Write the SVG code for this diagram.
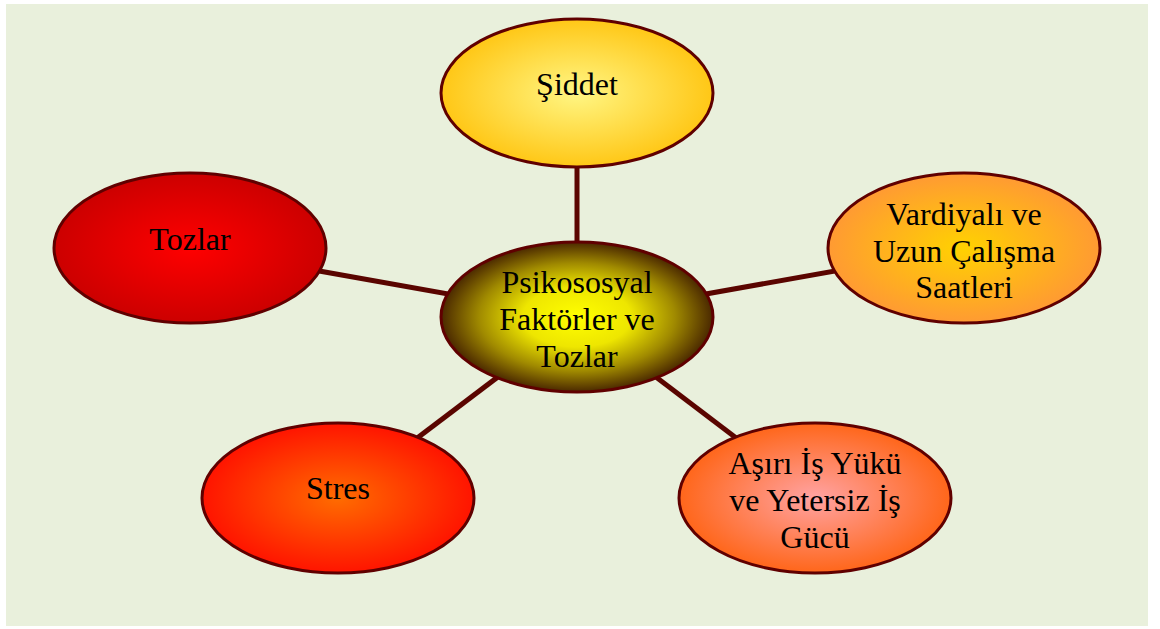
<svg xmlns="http://www.w3.org/2000/svg" width="1160" height="629" viewBox="0 0 1160 629">
  <defs>
    <radialGradient id="gCenter" cx="50%" cy="50%" r="50%">
      <stop offset="0" stop-color="#ffff00"/>
      <stop offset="0.4" stop-color="#eee600"/>
      <stop offset="0.72" stop-color="#a08a00"/>
      <stop offset="1" stop-color="#4a2800"/>
    </radialGradient>
    <radialGradient id="gSiddet" cx="50%" cy="50%" r="50%">
      <stop offset="0" stop-color="#fff684"/>
      <stop offset="1" stop-color="#ffc716"/>
    </radialGradient>
    <radialGradient id="gTozlar" cx="50%" cy="50%" r="50%">
      <stop offset="0" stop-color="#ff0000"/>
      <stop offset="1" stop-color="#cc0000"/>
    </radialGradient>
    <radialGradient id="gVardiya" cx="50%" cy="50%" r="50%">
      <stop offset="0" stop-color="#ffd200"/>
      <stop offset="1" stop-color="#ff9a33"/>
    </radialGradient>
    <radialGradient id="gStres" cx="50%" cy="50%" r="50%">
      <stop offset="0" stop-color="#ff6c00"/>
      <stop offset="1" stop-color="#ff1400"/>
    </radialGradient>
    <radialGradient id="gIsYuku" cx="50%" cy="50%" r="50%">
      <stop offset="0" stop-color="#ffa3a3"/>
      <stop offset="1" stop-color="#ff661a"/>
    </radialGradient>
  </defs>
  <style>
    .node ellipse { stroke: #600000; stroke-width: 3; }
    .node text { font-family: "Liberation Serif", "Times New Roman", serif; font-size: 32px; fill: #000; text-anchor: middle; }
    .links line { stroke: #5a0500; stroke-width: 5; }
  </style>

  <rect x="6" y="4" width="1142" height="622" fill="#e9f0dc"/>

  <g id="connectors" class="links">
    <line x1="577" y1="93" x2="577" y2="317"/>
    <line x1="190" y1="248" x2="577" y2="317"/>
    <line x1="964" y1="248" x2="577" y2="317"/>
    <line x1="338" y1="498" x2="577" y2="317"/>
    <line x1="815" y1="498" x2="577" y2="317"/>
  </g>

  <g id="node-siddet" class="node">
    <ellipse cx="577" cy="93" rx="136" ry="74" fill="url(#gSiddet)"/>
    <text x="577" y="95">Şiddet</text>
  </g>

  <g id="node-tozlar" class="node">
    <ellipse cx="190" cy="248" rx="136" ry="75" fill="url(#gTozlar)"/>
    <text x="190" y="250">Tozlar</text>
  </g>

  <g id="node-vardiya" class="node">
    <ellipse cx="964" cy="248" rx="136" ry="75" fill="url(#gVardiya)"/>
    <text x="964" y="225">Vardiyalı ve</text>
    <text x="964" y="262">Uzun Çalışma</text>
    <text x="964" y="298">Saatleri</text>
  </g>

  <g id="node-center" class="node">
    <ellipse cx="577" cy="317" rx="136" ry="75" fill="url(#gCenter)"/>
    <text x="577" y="293">Psikososyal</text>
    <text x="577" y="330">Faktörler ve</text>
    <text x="577" y="367">Tozlar</text>
  </g>

  <g id="node-stres" class="node">
    <ellipse cx="338" cy="498" rx="136" ry="75" fill="url(#gStres)"/>
    <text x="338" y="499">Stres</text>
  </g>

  <g id="node-isyuku" class="node">
    <ellipse cx="815" cy="498" rx="136" ry="75" fill="url(#gIsYuku)"/>
    <text x="815" y="474">Aşırı İş Yükü</text>
    <text x="815" y="511">ve Yetersiz İş</text>
    <text x="815" y="548">Gücü</text>
  </g>
</svg>
